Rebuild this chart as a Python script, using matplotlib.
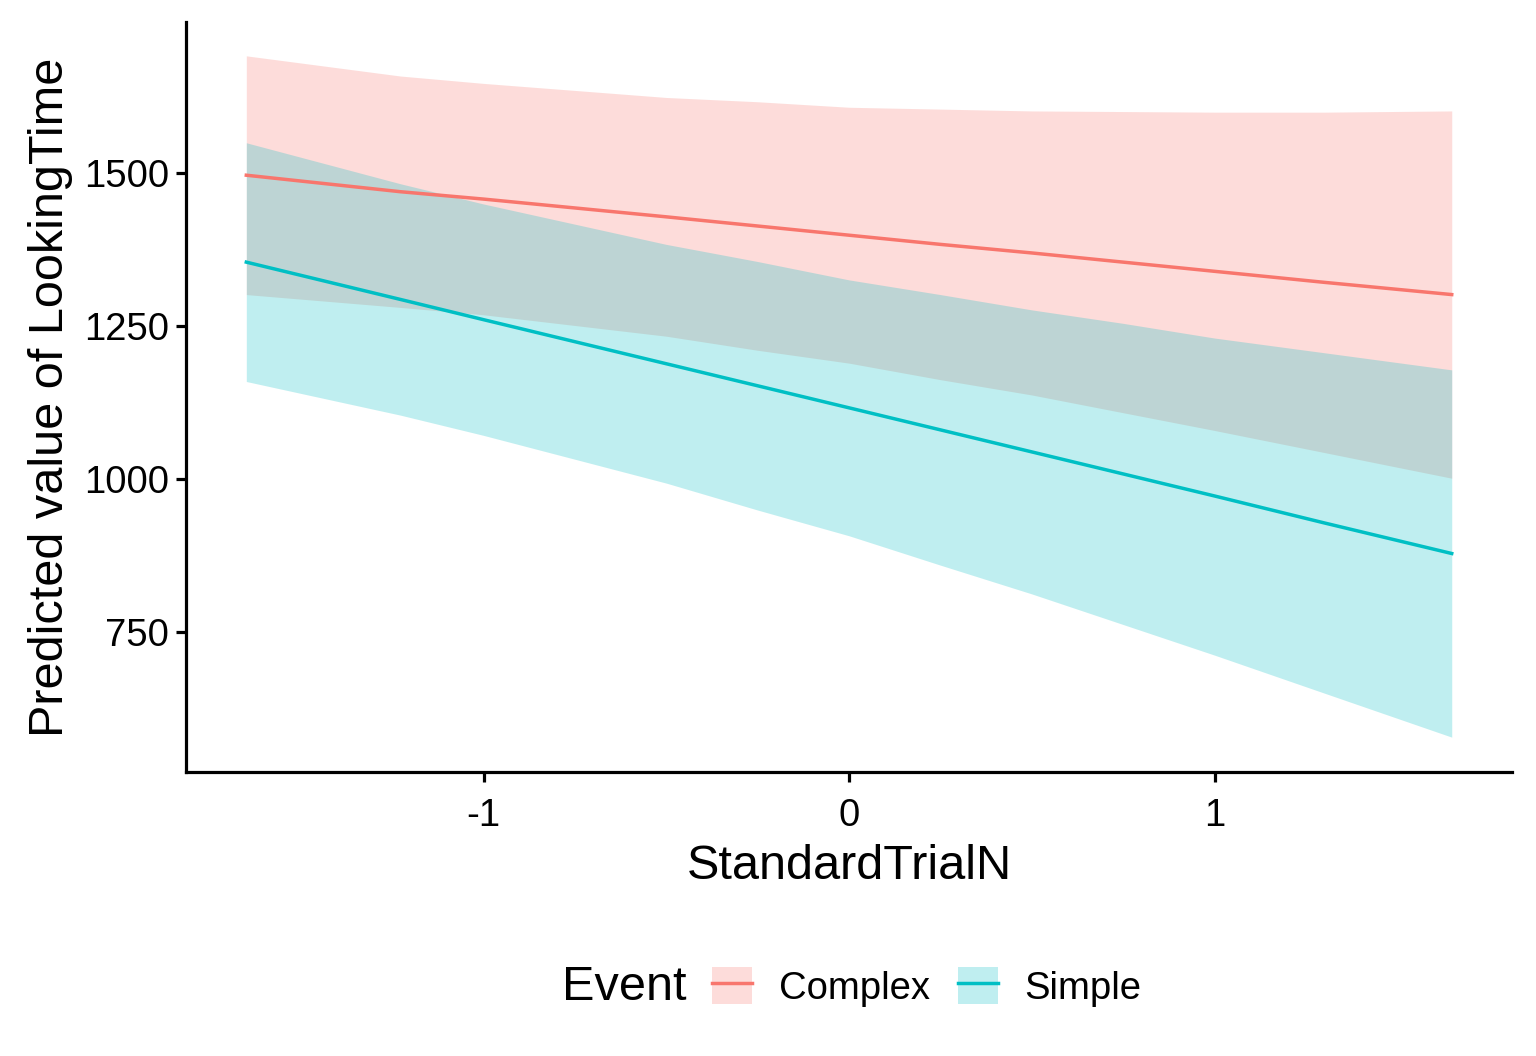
import numpy as np
import matplotlib.pyplot as plt
from matplotlib.patches import Patch
from matplotlib.lines import Line2D
from matplotlib.legend_handler import HandlerTuple

plt.rcParams['font.family'] = ['Liberation Sans', 'DejaVu Sans']

# ======================== values ========================
trial_n = [-1.649, -1.227, -1.0, -0.5, -0.25, 0.0, 0.25, 0.5, 0.75, 1.0, 1.3, 1.649]

complex_fit = [1496, 1469, 1457, 1428, 1413, 1398, 1383, 1369, 1354, 1339, 1321, 1301]
complex_hi = [1691, 1658, 1646, 1623, 1616, 1607, 1604, 1601, 1600, 1599, 1599, 1601]
complex_lo = [1301, 1280, 1268, 1233, 1210, 1189, 1162, 1137, 1108, 1079, 1043, 1001]

simple_fit = [1354, 1293, 1260, 1188, 1152, 1116, 1080, 1044, 1008, 972, 928, 878]
simple_hi = [1549, 1482, 1449, 1383, 1355, 1325, 1301, 1276, 1254, 1230, 1206, 1178]
simple_lo = [1159, 1104, 1071, 993, 949, 907, 859, 812, 762, 712, 650, 578]

x_ticks = [-1, 0, 1]
y_ticks = [750, 1000, 1250, 1500]

red = '#F8766D'
teal = '#00BFC4'

# ================================ Plot =====================================
fig = plt.figure(figsize=(15.36, 10.56), dpi=100)
ax = fig.add_axes([0.1211, 0.2689, 0.8633, 0.7101])

ax.fill_between(trial_n, complex_lo, complex_hi, color=red, alpha=0.25, lw=0)
ax.fill_between(trial_n, simple_lo, simple_hi, color=teal, alpha=0.25, lw=0)
ax.plot(trial_n, complex_fit, color=red, lw=2.5)
ax.plot(trial_n, simple_fit, color=teal, lw=2.5)

ax.set_xlim(-1.814, 1.814)
ax.set_ylim(521, 1746)
ax.set_xticks(x_ticks)
ax.set_xticklabels(['-1', '0', '1'])
ax.set_yticks(y_ticks)

for side in ['top', 'right']:
    ax.spines[side].set_visible(False)
for side in ['left', 'bottom']:
    ax.spines[side].set_linewidth(2.3)
ax.tick_params(width=2.3, length=7, labelsize=27.5, colors='black')
ax.tick_params(axis='x', pad=12)
ax.tick_params(axis='y', pad=5)

ax.set_xlabel('StandardTrialN', fontsize=35, labelpad=7)
ax.set_ylabel('Predicted value of LookingTime', fontsize=35, labelpad=8)

# legend at the bottom, title to the left of the keys
handles = [
    (Patch(facecolor=red, alpha=0.25, lw=0), Line2D([], [], color=red, lw=2.5)),
    (Patch(facecolor=teal, alpha=0.25, lw=0), Line2D([], [], color=teal, lw=2.5)),
]
fig.text(0.366, 0.0653, 'Event', fontsize=35, va='center', ha='left')
fig.legend(handles, ['Complex', 'Simple'], ncol=2, frameon=False,
           fontsize=27.5, loc='center left', bbox_to_anchor=(0.4635, 0.0653),
           handler_map={tuple: HandlerTuple(ndivide=1, pad=0)},
           handlelength=1.05, handleheight=1.1, handletextpad=0.7,
           columnspacing=0.73, borderpad=0, borderaxespad=0)

fig.savefig('out.png', dpi=100)
